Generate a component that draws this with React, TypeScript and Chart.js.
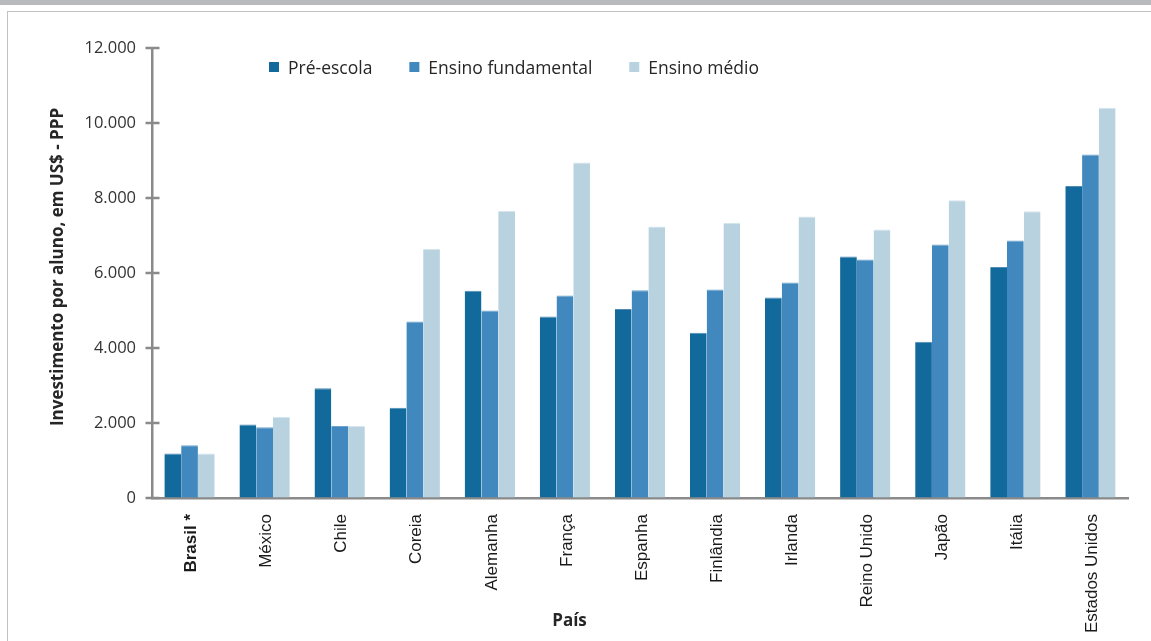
import { useEffect, useRef } from 'react';
import { Chart, registerables } from 'chart.js';

Chart.register(...registerables);

// Annual spending per student (US$ PPP) by country and level of education
const categories = [
  'Brasil *',
  'México',
  'Chile',
  'Coreia',
  'Alemanha',
  'França',
  'Espanha',
  'Finlândia',
  'Irlanda',
  'Reino Unido',
  'Japão',
  'Itália',
  'Estados Unidos',
];

const seriesNames = ['Pré-escola', 'Ensino fundamental', 'Ensino médio'];

const preEscola = [1190, 1960, 2930, 2410, 5530, 4840, 5040, 4410, 5350, 6440, 4170, 6160, 8320];
const ensinoFundamental = [1410, 1890, 1920, 4710, 5000, 5400, 5540, 5560, 5750, 6360, 6760, 6870, 9160];
const ensinoMedio = [1190, 2170, 1920, 6650, 7660, 8950, 7240, 7340, 7510, 7160, 7940, 7650, 10410];

const yTickValues = [0, 2000, 4000, 6000, 8000, 10000, 12000];

const yTitle = 'Investimento por aluno, em US$ - PPP';
const xTitle = 'País';

const seriesColors = ['#116a9b', '#4088be', '#b9d2df'];
const seriesEdge = ['#4f8bb3', '#6ea4cc', '#d6e5ee'];

const AXIS_COLOR = '#8a8a8a';
const TEXT_COLOR = '#262626';

const formatThousands = (v: number) =>
  String(v).replace(/\B(?=(\d{3})+(?!\d))/g, '.');

// Legend row above the plot, laid out left to right from the datasets
const legendRow = {
  id: 'legendRow',
  afterDraw(chart: any) {
    const ctx = chart.ctx as CanvasRenderingContext2D;
    ctx.save();
    ctx.font = '17.5px "Open Sans"';
    ctx.textBaseline = 'alphabetic';
    ctx.textAlign = 'left';
    let x = 269;
    const baseline = 74;
    chart.data.datasets.forEach((ds: any) => {
      ctx.fillStyle = ds.backgroundColor;
      ctx.fillRect(x, baseline - 12, 10, 10);
      x += 10 + 9;
      ctx.fillStyle = TEXT_COLOR;
      ctx.fillText(ds.label, x, baseline);
      x += ctx.measureText(ds.label).width + 37;
    });
    ctx.restore();
  },
};

// Tick marks crossing the value axis, plus both axis titles
const axisDecor = {
  id: 'axisDecor',
  afterDraw(chart: any) {
    const ctx = chart.ctx as CanvasRenderingContext2D;
    const y = chart.scales.y;
    const area = chart.chartArea;
    ctx.save();
    ctx.strokeStyle = AXIS_COLOR;
    ctx.lineWidth = 2.5;
    y.ticks.forEach((t: any) => {
      const py = y.getPixelForValue(t.value);
      ctx.beginPath();
      ctx.moveTo(area.left - 6.5, py);
      ctx.lineTo(area.left + 7.5, py);
      ctx.stroke();
    });

    ctx.fillStyle = TEXT_COLOR;
    ctx.font = 'bold 17px "Open Sans"';
    ctx.textAlign = 'center';
    ctx.textBaseline = 'alphabetic';

    ctx.save();
    ctx.translate(62.5, 267);
    ctx.rotate(-Math.PI / 2);
    ctx.fillText(yTitle, 0, 0);
    ctx.restore();

    ctx.fillText(xTitle, 569.5, 626);
    ctx.restore();
  },
};

export default function App() {
  const canvasRef = useRef<HTMLCanvasElement | null>(null);

  useEffect(() => {
    if (!canvasRef.current) return;
    const values = [preEscola, ensinoFundamental, ensinoMedio];
    const chart = new Chart(canvasRef.current, {
      type: 'bar',
      data: {
        labels: categories,
        datasets: values.map((data, i) => ({
          label: seriesNames[i],
          data,
          backgroundColor: seriesColors[i],
          borderColor: seriesEdge[i],
          borderWidth: { top: 1, left: 0, right: 0, bottom: 0 },
          borderSkipped: 'start',
          categoryPercentage: 0.67,
          barPercentage: 1.0,
        })),
      },
      options: {
        responsive: false,
        animation: false,
        devicePixelRatio: 1,
        layout: { padding: { left: 0, right: 23, top: 48, bottom: 0 } },
        plugins: {
          legend: { display: false },
          tooltip: { enabled: false },
          title: { display: false },
        },
        scales: {
          x: {
            type: 'category',
            grid: { display: true, drawOnChartArea: false, drawTicks: false },
            border: { display: true, color: AXIS_COLOR, width: 2.5 },
            ticks: {
              autoSkip: false,
              minRotation: 90,
              maxRotation: 90,
              padding: 16,
              labelOffset: 2,
              color: '#1a1a1a',
              font: (c: any) => ({
                family: '"Liberation Sans", Arial, sans-serif',
                size: 17,
                weight: c.index === 0 ? 'bold' : 'normal',
              }),
            },
            afterFit: (s: any) => {
              s.height = 143;
            },
          },
          y: {
            min: 0,
            max: 12000,
            grid: { display: true, drawOnChartArea: false, drawTicks: false },
            border: { display: true, color: AXIS_COLOR, width: 2.5 },
            afterBuildTicks: (s: any) => {
              s.ticks = yTickValues.map((value) => ({ value }));
            },
            ticks: {
              padding: 16,
              color: '#333333',
              font: { family: '"Open Sans"', size: 16.5 },
              callback: (v: any) => formatThousands(Number(v)),
            },
            afterFit: (s: any) => {
              s.width = 152;
            },
          },
        },
      },
      plugins: [legendRow, axisDecor],
    });
    return () => chart.destroy();
  }, []);

  return (
    <div
      style={{
        position: 'fixed',
        left: 0,
        top: 0,
        width: 1151,
        height: 641,
        background: '#ffffff',
        overflow: 'hidden',
      }}
    >
      <div
        style={{
          position: 'absolute',
          left: 0,
          top: 0,
          width: 1151,
          height: 5,
          background: '#b9babe',
        }}
      />
      <div
        style={{
          position: 'absolute',
          left: 7,
          top: 11,
          width: 1160,
          height: 650,
          borderLeft: '1.5px solid #c2c2c2',
          borderTop: '1.5px solid #c2c2c2',
        }}
      />
      <canvas
        ref={canvasRef}
        width={1151}
        height={641}
        style={{ position: 'absolute', left: 0, top: 0 }}
      />
    </div>
  );
}
